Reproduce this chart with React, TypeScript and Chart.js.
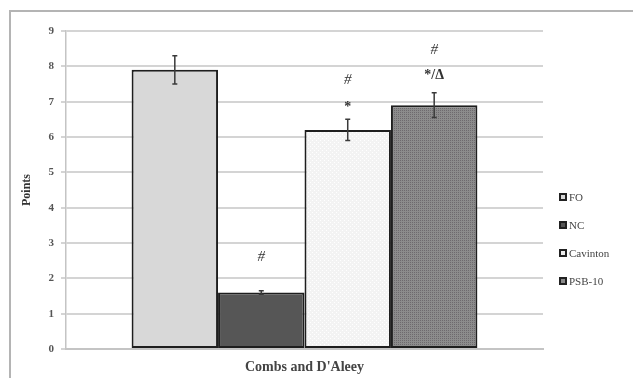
import React, { useEffect, useRef } from "react";
import { Chart, registerables } from "chart.js";

Chart.register(...registerables);

const category = ["Combs and D'Aleey"];
const groups = ["FO", "NC", "Cavinton", "PSB-10"];
const means = [7.9, 1.6, 6.2, 6.9];
const errors = [0.4, 0.05, 0.3, 0.35];
const marksTop = ["", "#", "#", "#"];
const marksTopAt = [0, 2.6, 7.6, 8.45];
const marksLow = ["", "", "*", "*/\u0394"];
const marksLowAt = [0, 0, 6.85, 7.75];
const yTicks = [0, 1, 2, 3, 4, 5, 6, 7, 8, 9];

function makePattern(bg: string, fg: string, kind: string): CanvasPattern | string {
  const c = document.createElement("canvas");
  c.width = 4;
  c.height = 4;
  const g = c.getContext("2d");
  if (!g) return bg;
  g.fillStyle = bg;
  g.fillRect(0, 0, 4, 4);
  g.fillStyle = fg;
  if (kind === "dots") {
    g.fillRect(0, 0, 1, 1);
    g.fillRect(2, 2, 1, 1);
  } else {
    g.fillRect(0, 0, 1, 1);
    g.fillRect(2, 0, 1, 1);
    g.fillRect(0, 2, 1, 1);
    g.fillRect(2, 2, 1, 1);
  }
  const p = g.createPattern(c, "repeat");
  return p || bg;
}

export default function App() {
  const ref = useRef<HTMLCanvasElement>(null);
  useEffect(() => {
    if (!ref.current) return;
    const fills: (string | CanvasPattern)[] = [
      "#d8d8d8",
      "#565656",
      makePattern("#f3f3f3", "#ffffff", "dots"),
      makePattern("#8c8c8c", "#6e6a6e", "grid"),
    ];
    const legendFills = ["#d8d8d8", "#565656", "#eeeeee", "#8a8a8a"];

    const framePlugin = {
      id: "frame",
      beforeDraw(chart: any) {
        const ctx = chart.ctx;
        ctx.save();
        ctx.fillStyle = "#ffffff";
        ctx.fillRect(0, 0, chart.width, chart.height);
        ctx.strokeStyle = "#b4b4b4";
        ctx.lineWidth = 2;
        ctx.beginPath();
        ctx.moveTo(10, chart.height);
        ctx.lineTo(10, 11);
        ctx.lineTo(chart.width, 11);
        ctx.stroke();
        ctx.restore();
      },
    };

    const extrasPlugin = {
      id: "extras",
      afterDatasetsDraw(chart: any) {
        const ctx = chart.ctx;
        const y = chart.scales.y;
        ctx.save();
        groups.forEach((_, i) => {
          const el = chart.getDatasetMeta(i).data[0];
          const x = el.x;
          const yHi = y.getPixelForValue(means[i] + errors[i]);
          const yLo = y.getPixelForValue(means[i] - errors[i]);
          ctx.strokeStyle = "#3a3a3a";
          ctx.lineWidth = 1.5;
          ctx.beginPath();
          ctx.moveTo(x, yHi);
          ctx.lineTo(x, yLo);
          ctx.moveTo(x - 2.5, yHi);
          ctx.lineTo(x + 2.5, yHi);
          ctx.moveTo(x - 2.5, yLo);
          ctx.lineTo(x + 2.5, yLo);
          ctx.stroke();
          ctx.fillStyle = "#333333";
          ctx.textAlign = "center";
          ctx.textBaseline = "middle";
          if (marksTop[i]) {
            ctx.font = "italic 15px 'Liberation Serif'";
            ctx.fillText(marksTop[i], x, y.getPixelForValue(marksTopAt[i]));
          }
          if (marksLow[i]) {
            ctx.font = "bold 14px 'Liberation Serif'";
            ctx.fillText(marksLow[i], x, y.getPixelForValue(marksLowAt[i]));
          }
        });
        // legend
        const lx = 559;
        const ly0 = 197;
        const step = 28;
        groups.forEach((g, i) => {
          const ly = ly0 + i * step;
          ctx.fillStyle = "#222222";
          ctx.fillRect(lx, ly - 4, 8, 8);
          ctx.fillStyle = legendFills[i];
          ctx.fillRect(lx + 2, ly - 2, 4, 4);
          ctx.fillStyle = "#444444";
          ctx.font = "11px 'Liberation Serif'";
          ctx.textAlign = "left";
          ctx.textBaseline = "middle";
          ctx.fillText(g, lx + 10, ly + 1);
        });
        ctx.restore();
      },
    };

    const chart = new Chart(ref.current, {
      type: "bar",
      data: {
        labels: category,
        datasets: groups.map((g, i) => ({
          label: g,
          data: [means[i]],
          backgroundColor: fills[i] as any,
          borderColor: "#1e1e1e",
          borderWidth: 2,
          borderSkipped: false,
          categoryPercentage: 0.725,
          barPercentage: 1,
        })),
      },
      options: {
        animation: false,
        responsive: false,
        maintainAspectRatio: false,
        layout: { padding: { left: 20, right: 90, top: 31, bottom: 0 } },
        plugins: {
          legend: { display: false },
          tooltip: { enabled: false },
        },
        scales: {
          x: {
            afterFit: (s: any) => {
              s.height = 29;
            },
            grid: { display: false, drawTicks: false },
            border: { display: true, color: "#c4c4c4", width: 2 },
            ticks: {
              padding: 10,
              color: "#444444",
              font: { family: "'Liberation Serif'", size: 14, weight: "bold" },
            },
          },
          y: {
            min: 0,
            max: 9,
            afterFit: (s: any) => {
              s.width = 46;
            },
            afterBuildTicks: (s: any) => {
              s.ticks = yTicks.map((v) => ({ value: v }));
            },
            grid: { color: "#d4d4d4", lineWidth: 2, tickLength: 5 },
            border: { display: true, color: "#c4c4c4", width: 1.5 },
            ticks: {
              padding: 7,
              color: "#555555",
              font: { family: "'Liberation Serif'", size: 11, weight: "bold" },
            },
            title: {
              display: true,
              text: "Points",
              color: "#333333",
              padding: { top: 0, bottom: 6 },
              font: { family: "'Liberation Serif'", size: 12, weight: "bold" },
            },
          },
        },
      },
      plugins: [framePlugin, extrasPlugin],
    });
    return () => chart.destroy();
  }, []);

  return (
    <div style={{ position: "absolute", left: 0, top: 0, width: 633, height: 378 }}>
      <canvas ref={ref} width={633} height={378} style={{ display: "block" }} />
    </div>
  );
}
